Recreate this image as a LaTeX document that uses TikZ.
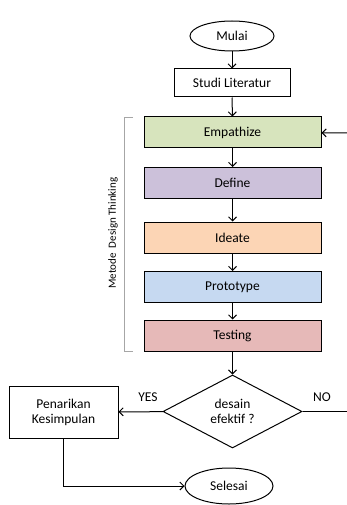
\documentclass[tikz,border=0pt]{standalone}
\usepackage{fontspec}
\setmainfont{Carlito}
\usetikzlibrary{arrows.meta,shapes.geometric,positioning}
\definecolor{empfill}{HTML}{D7E4BD}
\definecolor{deffill}{HTML}{CCC1DA}
\definecolor{idefill}{HTML}{FCD5B5}
\definecolor{profill}{HTML}{C6D9F1}
\definecolor{tesfill}{HTML}{E6B9B8}
\tikzset{
 >={Straight Barb[length=4pt,width=8pt]},
 txt/.style={font=\fontsize{13.5}{15}\selectfont},
 stepbox/.style={txt,draw,rectangle,line width=1pt,minimum width=177pt,minimum height=31pt,inner sep=0pt},
 endnode/.style={txt,draw,ellipse,line width=1pt,minimum width=84pt,minimum height=30pt,inner sep=0pt}
}

\begin{document}
\begin{tikzpicture}[x=1pt,y=-1pt,line width=1pt]
\useasboundingbox (0,0) rectangle (347,505);
\path (232,36) node[name=mulai,endnode] {Mulai};
\path (232,83) node[name=studi,stepbox,minimum width=116pt,minimum height=28pt] {Studi Literatur};

\path (232.5,132.5) node[name=emp,stepbox,fill=empfill] {Empathize};
\path (232.5,183) node[name=def,stepbox,fill=deffill] {Define};
\path (232.5,237.5) node[name=ide,stepbox,fill=idefill] {Ideate};
\path (232.5,287) node[name=pro,stepbox,fill=profill] {Prototype};
\path (232.5,335.5) node[name=tes,stepbox,fill=tesfill] {Testing};

\path (232.5,411.5) node[name=cek,txt,draw,diamond,aspect=1.9,minimum width=139pt,minimum height=73pt,inner sep=0pt,align=center] {desain\\efektif ?};
\path (63.5,412) node[name=tarik,stepbox,minimum width=109pt,minimum height=52pt,align=center] {Penarikan\\Kesimpulan};
\path (229,486) node[name=selesai,endnode,minimum width=88pt,minimum height=36pt] {Selesai};

\path (148,397) node[name=yes,txt] {YES};
\path (322,397) node[name=no,txt] {NO};
\path (113,233) node[name=metode,font=\fontsize{11}{13}\selectfont,rotate=90] {Metode\ \ Design Thinking};

\coordinate (balik) at (347,133);
\coordinate (lanjut) at (347,411.5);

\path[->] (mulai) edge (studi);
\path[->] (studi) edge (emp);
\path[->] (emp) edge (def);
\path[->] (def) edge (ide);
\path[->] (ide) edge (pro);
\path[->] (pro) edge (tes);
\path[->] (tes) edge (cek);
\path[->] (cek) edge (tarik);
\path[-] (cek) edge (lanjut);
\path[->] (balik) edge (emp);
\draw[->] (tarik) |- (selesai);

% kurung metode
\draw[gray!70,line width=0.8pt] (133,117) -- (124,117) -- (124,351) -- (133,351);
\end{tikzpicture}
\end{document}
